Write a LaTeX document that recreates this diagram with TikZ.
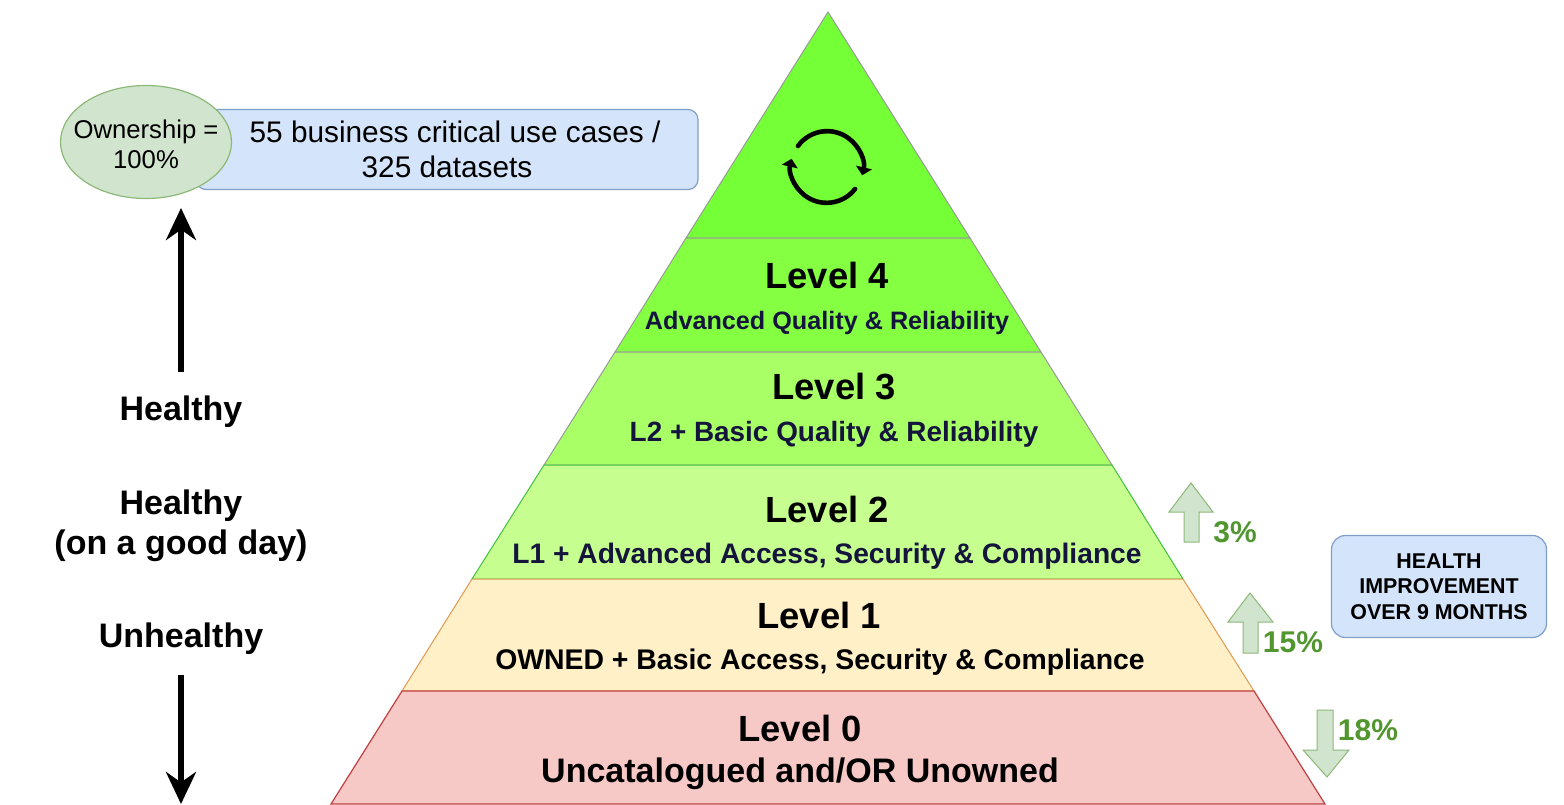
\documentclass[tikz,border=0pt]{standalone}
\usepackage{fontspec}
\setmainfont{Liberation Sans}
\usetikzlibrary{arrows,arrows.meta,positioning,shapes}
\definecolor{colortop}{HTML}{75FF36}
\definecolor{colorfour}{HTML}{85FF42}
\definecolor{colorthree}{HTML}{A8FF66}
\definecolor{colortwo}{HTML}{C6FF8F}
\definecolor{colorone}{HTML}{FFF0C8}
\definecolor{colorzero}{HTML}{F6C8C6}
\definecolor{colorgain}{HTML}{52962F}
\definecolor{colorsub}{HTML}{14143C}
\definecolor{colorbox}{HTML}{D4E4FA}
\definecolor{colorboxline}{HTML}{7F9FCB}
\definecolor{colorleaf}{HTML}{D0E4CE}
\definecolor{colorleafline}{HTML}{8DB878}
\tikzstyle{layer}=[draw=black!40, line width=0.5pt]
\tikzstyle{levelname}=[font=\bfseries\fontsize{18.2}{20}\selectfont, inner sep=0pt]
\tikzstyle{levelnote}=[font=\bfseries\fontsize{14.1}{16}\selectfont, inner sep=0pt]
\tikzstyle{health}=[font=\bfseries\fontsize{17}{20}\selectfont, align=center, inner sep=0pt]
\tikzstyle{bluebox}=[draw=colorboxline, fill=colorbox, line width=0.6pt, rounded corners=5pt, align=center, inner sep=0pt]
\tikzstyle{gain}=[draw=colorleafline, fill=colorleaf, line width=0.5pt]
\tikzstyle{gaintext}=[text=colorgain, font=\bfseries\fontsize{15}{18}\selectfont, inner sep=0pt]
\tikzstyle{bigarrow}=[-{Stealth[length=16pt,width=15pt]}, line width=3pt]
\tikzstyle{cycleicon}=[line width=2.3pt, line cap=round, -{Triangle[length=4pt,width=8pt]}]
\begin{document}
\begin{tikzpicture}[x=0.5pt, y=-0.5pt]
	\useasboundingbox (0, 0) rectangle (1564, 804);
	
	% pyramid
	\fill[colortop, layer] (828, 12) -- (970, 238) -- (686, 238) -- cycle;
	\fill[colorfour, layer] (686, 238) -- (970, 238) -- (1041, 352) -- (615, 352) -- cycle;
	\fill[colorthree, layer] (615, 352) -- (1041, 352) -- (1112, 465) -- (544, 465) -- cycle;
	\fill[colortwo, draw=green!50!gray, line width=0.5pt] (544, 465) -- (1112, 465) -- (1183, 579) -- (472, 579) -- cycle;
	\fill[colorone, draw=orange!70!gray!80, line width=0.5pt] (472, 579) -- (1183, 579) -- (1254, 691) -- (402, 691) -- cycle;
	\fill[colorzero, draw=red!50!gray, line width=0.6pt] (402, 691) -- (1254, 691) -- (1325, 804) -- (331, 804) -- cycle;
	
	% cycle icon
	\draw[cycleicon] (798, 146) arc[start angle=-144, end angle=13, radius=36];
	\draw[cycleicon] (855, 189) arc[start angle=38, end angle=193, radius=36];
	
	% levels
	\node[levelname] at (827, 275) (l4) {Level 4};
	\node[levelnote, text=colorsub, font=\bfseries\fontsize{12.6}{16}\selectfont] at (827, 323) (n4) {Advanced Quality \& Reliability};
	\node[levelname] at (834, 387) (l3) {Level 3};
	\node[levelnote, text=colorsub, font=\bfseries\fontsize{13.95}{16}\selectfont] at (834, 434) (n3) {L2 + Basic Quality \& Reliability};
	\node[levelname] at (827, 509) (l2) {Level 2};
	\node[levelnote, text=colorsub] at (827, 556) (n2) {L1 + Advanced Access, Security \& Compliance};
	\node[levelname] at (819, 615) (l1) {Level 1};
	\node[levelnote, font=\bfseries\fontsize{14.2}{16}\selectfont] at (820, 662) (n1) {OWNED + Basic Access, Security \& Compliance};
	\node[levelname] at (800, 728) (l0) {Level 0};
	\node[levelname, font=\bfseries\fontsize{17}{20}\selectfont] at (800, 774) (n0) {Uncatalogued and/OR Unowned};
	
	% ownership
	\node[bluebox, minimum width=502pt/2, minimum height=80pt/2, font=\fontsize{14.9}{17.5}\selectfont] at (447, 149.5) (usecases) {\hspace*{8pt}55 business critical use cases /\\325 datasets};
	\node[ellipse, draw=colorleafline, fill=colorleaf, line width=0.6pt, minimum width=171pt/2, minimum height=113pt/2, inner sep=0pt] at (146, 142) (owner) {};
	\node[align=center, inner sep=0pt, font=\fontsize{12.85}{15}\selectfont] at (146, 144) (ownertext) {Ownership =\\100\%};
	
	% health scale
	\node[health] at (181, 412) (healthy) {Healthy};
	\node[health] at (181, 526) (goodday) {Healthy\\(on a good day)};
	\node[health] at (181, 639) (unhealthy) {Unhealthy};
	\coordinate (uptip) at (181, 208);
	\coordinate (downtip) at (181, 804);
	\draw[bigarrow] (healthy.north |- 0, 372) -- (uptip);
	\draw[bigarrow] (unhealthy.south |- 0, 675) -- (downtip);
	
	% changes
	\draw[gain] (1184, 542) -- (1184, 512) -- (1169, 512) -- (1191, 483) -- (1213, 512) -- (1199, 512) -- (1199, 542) -- cycle;
	\draw[gain] (1243, 653) -- (1243, 622) -- (1228, 622) -- (1250, 593) -- (1273, 622) -- (1258, 622) -- (1258, 653) -- cycle;
	\draw[gain] (1317, 710) -- (1317, 750) -- (1303, 750) -- (1327, 777) -- (1349, 750) -- (1333, 750) -- (1333, 710) -- cycle;
	\node[gaintext] at (1235, 532) (up3) {3\%};
	\node[gaintext] at (1293, 642) (up15) {15\%};
	\node[gaintext] at (1368, 730) (down18) {18\%};
	\node[bluebox, minimum width=215pt/2, minimum height=102pt/2, rounded corners=7pt, font=\bfseries\fontsize{10.7}{12.8}\selectfont] at (1439, 586.5) (improve) {HEALTH\\IMPROVEMENT\\OVER 9 MONTHS};
\end{tikzpicture}
\end{document}
